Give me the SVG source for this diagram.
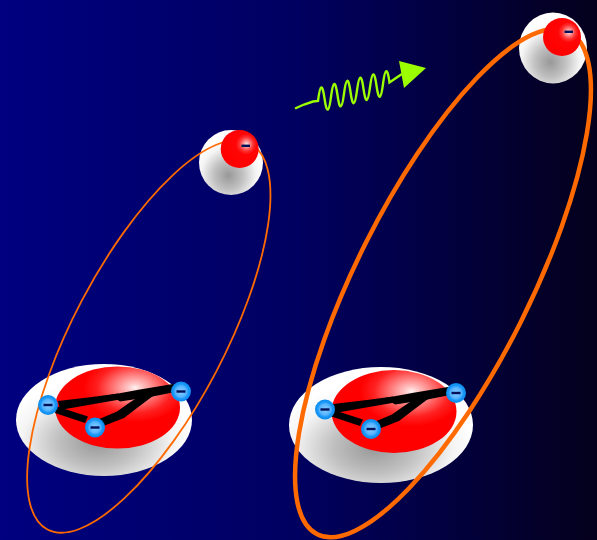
<svg xmlns="http://www.w3.org/2000/svg" xmlns:xlink="http://www.w3.org/1999/xlink" width="597" height="540" viewBox="0 0 597 540">
  <style>
    .glow { fill: url(#glowGrad); }
    .orbit { fill: none; stroke: #FF6A00; }
    .electron { fill: url(#sphereGrad); }
    .nucleus { fill: url(#nucleusGrad); }
    .bond { fill: #000000; }
    .dash { fill: #00115A; }
    .photon { fill: none; stroke: #9CFF00; stroke-width: 2.4; stroke-linejoin: miter; }
  </style>
  <defs>
    <linearGradient id="bgGrad" x1="0" y1="0" x2="1" y2="0">
      <stop offset="0" stop-color="#000080"/>
      <stop offset="0.5" stop-color="#000060"/>
      <stop offset="1" stop-color="#04001C"/>
    </linearGradient>
    <radialGradient id="glowGrad" cx="0.46" cy="0.7" r="0.55">
      <stop offset="0" stop-color="#989898"/>
      <stop offset="0.4" stop-color="#C0C0C0"/>
      <stop offset="0.78" stop-color="#F4F4F4"/>
      <stop offset="1" stop-color="#FFFFFF"/>
    </radialGradient>
    <radialGradient id="sphereGrad" cx="0.66" cy="0.38" r="0.6" fx="0.68" fy="0.37">
      <stop offset="0" stop-color="#FFE4E6"/>
      <stop offset="0.12" stop-color="#FF9C9C"/>
      <stop offset="0.3" stop-color="#FF3434"/>
      <stop offset="0.45" stop-color="#FF0606"/>
      <stop offset="1" stop-color="#FF0000"/>
    </radialGradient>
    <radialGradient id="nucleusGrad" cx="0.64" cy="0.27" r="0.55" fx="0.64" fy="0.26">
      <stop offset="0" stop-color="#FFF2F2"/>
      <stop offset="0.1" stop-color="#FFC6C6"/>
      <stop offset="0.3" stop-color="#FF7C7C"/>
      <stop offset="0.55" stop-color="#FF2020"/>
      <stop offset="0.75" stop-color="#FF0000"/>
      <stop offset="1" stop-color="#FF0000"/>
    </radialGradient>
    <radialGradient id="dotGrad" cx="0.5" cy="0.5" r="0.5">
      <stop offset="0" stop-color="#8ACFFF"/>
      <stop offset="0.55" stop-color="#56B3FF"/>
      <stop offset="0.75" stop-color="#1A98F8"/>
      <stop offset="1" stop-color="#0A8CEE"/>
    </radialGradient>
    <!-- small negative charge: blue bead with a minus dash -->
    <g id="charge">
      <circle r="10" fill="url(#dotGrad)"/>
      <rect class="dash" x="-4.5" y="-1.2" width="9" height="2.4"/>
    </g>
    <!-- jagged black bonds between the three charges -->
    <g id="bonds">
      <polygon class="bond" points="58,401 92,397 118,393.5 120,399.5 94,404 60,410"/>
      <polygon class="bond" points="110,395 140,389.5 176,383.5 180,391 150,397 120,401.5"/>
      <polygon class="bond" points="97,420 117,411.5 129,403 145,392.5 153,396 139,406.5 124,418 101,427"/>
      <polygon class="bond" points="57,406.5 88,416.5 85,423 55,413"/>
    </g>
  </defs>

  <!-- background -->
  <rect x="0" y="0" width="597" height="540" fill="url(#bgGrad)"/>

  <!-- soft halos behind every body -->
  <g id="halos">
    <ellipse class="glow" cx="231" cy="162.5" rx="32" ry="32.5"/>
    <ellipse class="glow" cx="553" cy="48" rx="34" ry="35.5"/>
    <ellipse class="glow" cx="104" cy="420" rx="88" ry="56"/>
    <ellipse class="glow" cx="381" cy="425" rx="92" ry="58"/>
  </g>

  <!-- electron orbits -->
  <g id="connectors">
    <ellipse class="orbit" stroke-width="1.8" cx="148.8" cy="336.5" rx="218" ry="76" transform="rotate(-62.3 148.8 336.5)"/>
    <ellipse class="orbit" stroke-width="4.5" cx="443" cy="283" rx="281" ry="87" transform="rotate(-63.4 443 283)"/>
  </g>

  <!-- incoming photon -->
  <g id="photon">
    <path class="photon" d="M295,108.5 L304,104.5 L313,101.5 L318,101 Q321.25,75.2 324.5,98.4 T331,96.8 T337.5,95.2 T344,93.6 T350.5,92 T357,90.4 T363.5,88.8 T370,87.2 T376.5,85.6 T383,84 T389.5,82.4 L396,78 L402,74"/>
    <polygon points="399,61 426,68 404,88" fill="#9CFF00"/>
  </g>

  <!-- left molecule -->
  <g id="molecule-left">
    <ellipse class="nucleus" cx="117.5" cy="407.5" rx="62.5" ry="41"/>
    <use href="#bonds"/>
    <use href="#charge" x="48" y="405"/>
    <use href="#charge" x="95" y="427.5"/>
    <use href="#charge" x="181" y="391.5"/>
  </g>

  <!-- right molecule -->
  <g id="molecule-right">
    <ellipse class="nucleus" cx="394" cy="411.5" rx="62.5" ry="41.5"/>
    <use href="#bonds" transform="translate(275 3)"/>
    <use href="#charge" x="325" y="409.5"/>
    <use href="#charge" x="371" y="429"/>
    <use href="#charge" x="456" y="393"/>
  </g>

  <!-- bound electron, left -->
  <g id="electron-left">
    <circle class="electron" cx="239.7" cy="149" r="19"/>
    <rect class="dash" x="241.5" y="144.6" width="8.5" height="2.4"/>
  </g>

  <!-- bound electron, right -->
  <g id="electron-right">
    <circle class="electron" cx="562" cy="37" r="19"/>
    <rect class="dash" x="564.5" y="30.6" width="8.5" height="2.4"/>
  </g>
</svg>
